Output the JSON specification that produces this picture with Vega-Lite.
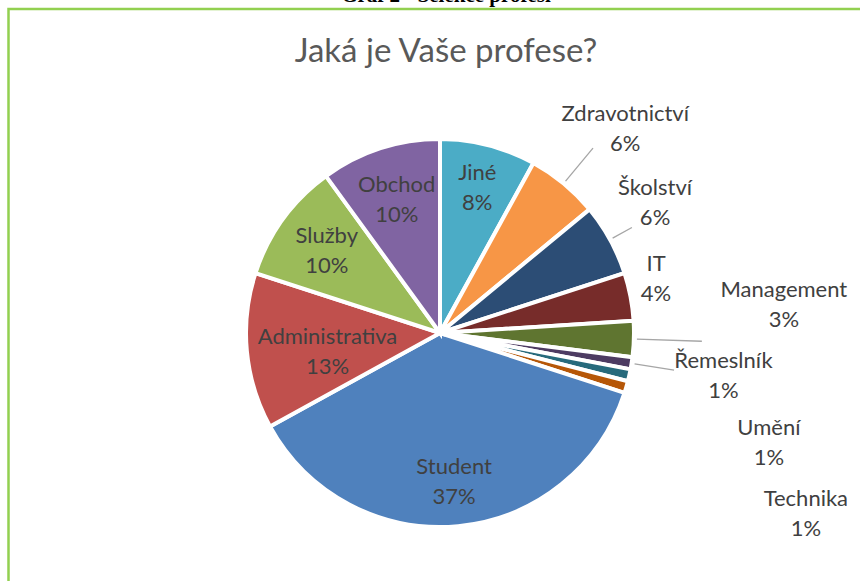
{
  "$schema": "https://vega.github.io/schema/vega-lite/v6.json",
  "width": 863,
  "height": 648,
  "autosize": {"type": "none"},
  "padding": {"left": 8.5, "top": 9, "right": -11.5, "bottom": -76},
  "background": "#ffffff",
  "config": {
    "view": {"stroke": null},
    "font": "Lato"
  },
  "title": {
    "text": "Graf 2 - Selekce profesí",
    "subtitle": "Jaká je Vaše profese?",
    "anchor": "middle",
    "offset": -61,
    "dx": 6,
    "font": "Liberation Serif",
    "fontSize": 21,
    "fontWeight": "bold",
    "color": "#000000",
    "subtitleFont": "Lato",
    "subtitleFontSize": 33,
    "subtitleColor": "#595959",
    "subtitlePadding": 30
  },
  "data": {
    "values": [
      {"name": "Jiné", "share": 0.08, "rank": 1},
      {"name": "Zdravotnictví", "share": 0.06, "rank": 2},
      {"name": "Školství", "share": 0.06, "rank": 3},
      {"name": "IT", "share": 0.04, "rank": 4},
      {"name": "Management", "share": 0.03, "rank": 5},
      {"name": "Řemeslník", "share": 0.01, "rank": 6},
      {"name": "Umění", "share": 0.01, "rank": 7},
      {"name": "Technika", "share": 0.01, "rank": 8},
      {"name": "Student", "share": 0.37, "rank": 9},
      {"name": "Administrativa", "share": 0.13, "rank": 10},
      {"name": "Služby", "share": 0.10, "rank": 11},
      {"name": "Obchod", "share": 0.10, "rank": 12}
    ]
  },
  "layer": [
    {
      "transform": [{"filter": "datum.rank == 1"}],
      "mark": {"type": "rect", "fill": "#ffffff", "fillOpacity": 0, "stroke": "#92D050", "strokeWidth": 2.5}
    },
    {
      "mark": {"type": "arc", "radius": 194, "stroke": "#ffffff", "strokeWidth": 4},
      "encoding": {
        "theta": {"field": "share", "type": "quantitative", "stack": true},
        "order": {"field": "rank", "type": "quantitative"},
        "color": {
          "field": "name",
          "type": "nominal",
          "legend": null,
          "scale": {
            "domain": ["Jiné", "Zdravotnictví", "Školství", "IT", "Management", "Řemeslník", "Umění", "Technika", "Student", "Administrativa", "Služby", "Obchod"],
            "range": ["#4BACC6", "#F79646", "#2C4D75", "#772C2A", "#5F7530", "#4D3B62", "#276A7C", "#B65708", "#4F81BD", "#C0504D", "#9BBB59", "#8064A2"]
          }
        }
      }
    },
    {
      "mark": {
        "type": "arc",
        "padAngle": 1,
        "radius2": 197,
        "radius": {"expr": "datum.name=='Zdravotnictví'?240:datum.name=='Školství'?219:datum.name=='Management'?262:datum.name=='Řemeslník'?237:198"},
        "fillOpacity": 0,
        "fill": "#ffffff",
        "stroke": "#A6A6A6",
        "strokeWidth": 1.3
      },
      "encoding": {
        "theta": {"field": "share", "type": "quantitative", "stack": true},
        "order": {"field": "rank", "type": "quantitative"},
        "strokeOpacity": {
          "condition": {"test": "indexof(['Zdravotnictví','Školství','Management','Řemeslník'], datum.name) >= 0", "value": 1},
          "value": 0
        }
      }
    },
    {
      "mark": {
        "type": "text",
        "fontSize": 22,
        "color": "#404040",
        "align": "center",
        "baseline": "middle",
        "radius": {"expr": "datum.name=='Student'||datum.name=='Jiné'?150:datum.name=='Obchod'||datum.name=='Služby'?140:datum.name=='Administrativa'?113:datum.name=='Zdravotnictví'?275:datum.name=='Školství'?250:datum.name=='IT'?222:datum.name=='Management'?344:datum.name=='Řemeslník'?287:datum.name=='Umění'?337:381"},
        "dx": {"expr": "datum.name=='Zdravotnictví'?10:datum.name=='Školství'?-4:datum.name=='IT'?-2:0"},
        "dy": {"expr": "(datum.name=='Administrativa'?8:datum.name=='Zdravotnictví'?8:datum.name=='Školství'?-10:datum.name=='IT'?-12:datum.name=='Management'?-39:datum.name=='Řemeslník'?-2:datum.name=='Umění'?36:datum.name=='Technika'?75:0) - 15"}
      },
      "encoding": {
        "theta": {"field": "share", "type": "quantitative", "stack": true},
        "order": {"field": "rank", "type": "quantitative"},
        "text": {"field": "name", "type": "nominal"}
      }
    },
    {
      "mark": {
        "type": "text",
        "fontSize": 22,
        "color": "#404040",
        "align": "center",
        "baseline": "middle",
        "radius": {"expr": "datum.name=='Student'||datum.name=='Jiné'?150:datum.name=='Obchod'||datum.name=='Služby'?140:datum.name=='Administrativa'?113:datum.name=='Zdravotnictví'?275:datum.name=='Školství'?250:datum.name=='IT'?222:datum.name=='Management'?344:datum.name=='Řemeslník'?287:datum.name=='Umění'?337:381"},
        "dx": {"expr": "datum.name=='Zdravotnictví'?10:datum.name=='Školství'?-4:datum.name=='IT'?-2:0"},
        "dy": {"expr": "(datum.name=='Administrativa'?8:datum.name=='Zdravotnictví'?8:datum.name=='Školství'?-10:datum.name=='IT'?-12:datum.name=='Management'?-39:datum.name=='Řemeslník'?-2:datum.name=='Umění'?36:datum.name=='Technika'?75:0) + 15"}
      },
      "encoding": {
        "theta": {"field": "share", "type": "quantitative", "stack": true},
        "order": {"field": "rank", "type": "quantitative"},
        "text": {"field": "share", "type": "quantitative", "format": ".0%"}
      }
    }
  ]
}
